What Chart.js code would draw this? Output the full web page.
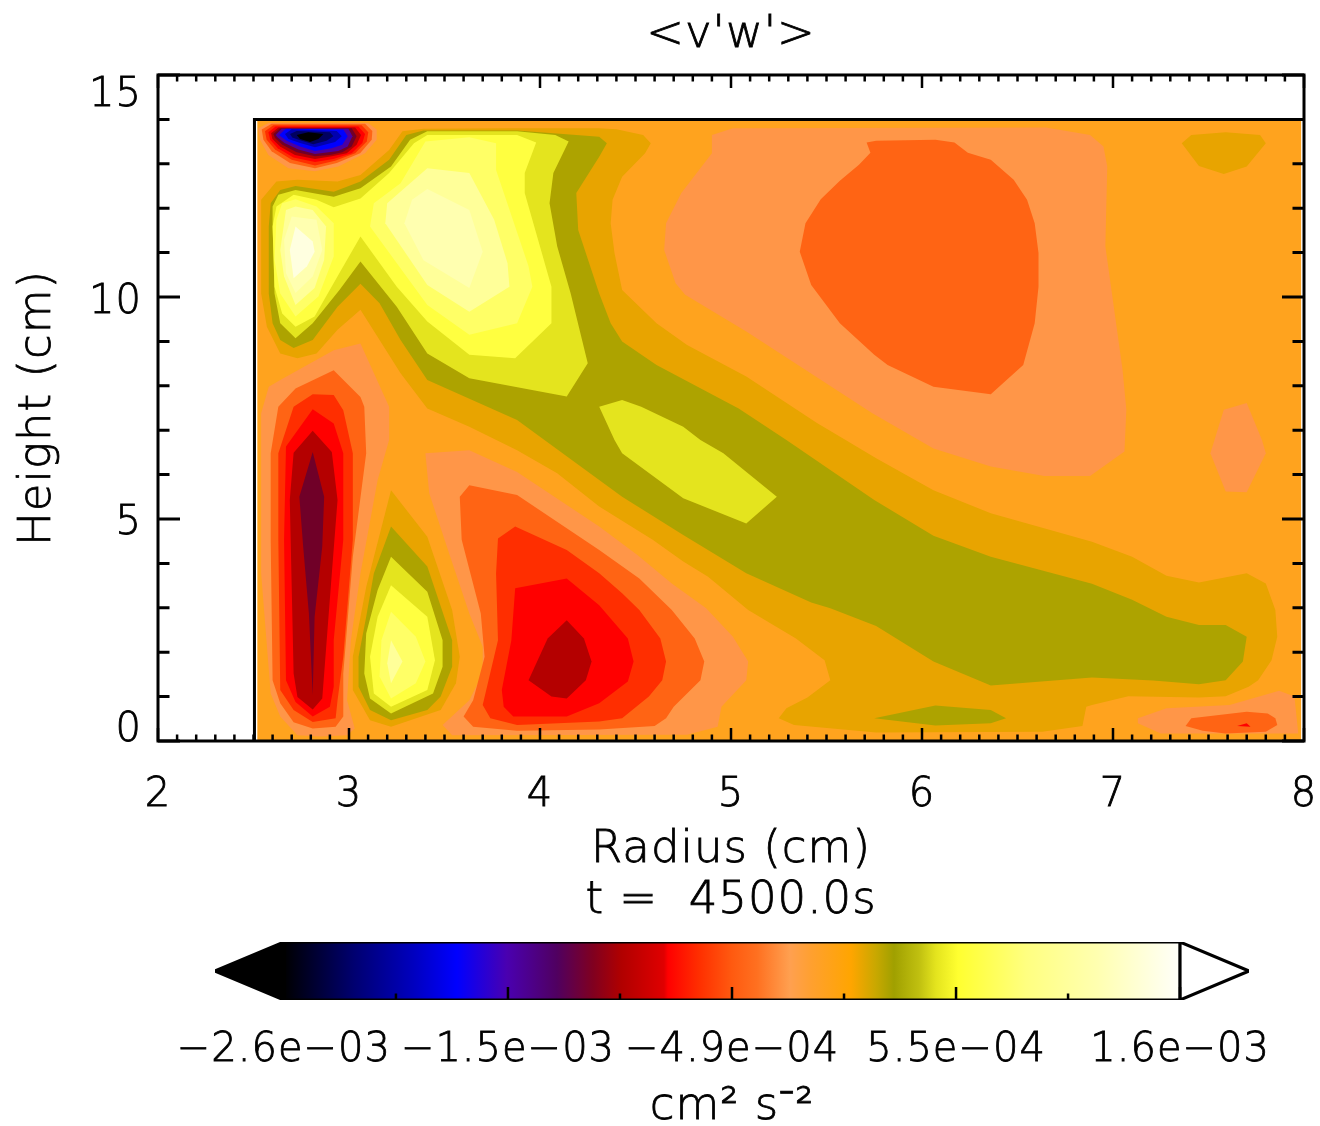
<!DOCTYPE html>
<html>
<head>
<meta charset="utf-8">
<title>v'w' contour</title>
<script src="https://cdn.jsdelivr.net/npm/chart.js@4"></script>
<style>
  html, body { margin: 0; padding: 0; background: #fff; }
  canvas { position: absolute; left: 0; }
  #field { top: 0; }
  #bar { top: 930px; }
</style>
</head>
<body>
<canvas id="field" width="1320" height="930"></canvas>
<canvas id="bar" width="1320" height="196"></canvas>
<script>
// contour bands: [radius cm, height cm]
const domain = [[2.52,0],[7.985,0],[7.985,13.98],[2.52,13.98]];
const domainEdge = [[2.505,0],[2.505,14.0],[8,14.0]];

// positive side, main ridge
const ridge1 = [[2.62,12.6],[2.54,12.19],[2.54,10.08],[2.57,9.33],[2.64,8.73],[2.73,8.62],[2.83,8.73],[2.94,9.26],[3.06,9.71],[3.16,9.03],[3.27,8.28],[3.41,7.49],[3.63,7.08],[3.88,6.55],[4.09,6.03],[4.31,5.28],[4.59,4.53],[4.75,4.04],[4.88,3.70],[5.09,2.95],[5.34,2.31],[5.49,1.82],[5.52,1.37],[5.40,0.98],[5.29,0.74],[5.25,0.51],[5.33,0.36],[5.76,0.19],[6.63,0.21],[6.84,0.34],[6.86,0.77],[6.89,0.81],[7.08,1.01],[7.45,0.98],[7.59,1.01],[7.71,1.22],[7.76,1.37],[7.83,1.82],[7.86,2.35],[7.85,2.95],[7.80,3.55],[7.70,3.78],[7.45,3.57],[7.28,3.72],[7.10,4.15],[6.89,4.49],[6.36,5.13],[6.06,5.65],[5.76,6.37],[5.60,6.78],[5.45,7.16],[5.08,8.21],[4.77,8.92],[4.61,9.41],[4.43,10.16],[4.39,10.99],[4.37,11.66],[4.38,12.19],[4.43,12.71],[4.55,13.24],[4.58,13.46],[4.54,13.65],[4.40,13.78],[4.31,13.80],[3.83,13.80],[3.39,13.79],[3.28,13.73],[3.21,13.31],[3.06,12.75],[2.94,12.6],[2.73,12.64]];
const ridge2 = [[2.64,12.41],[2.72,12.50],[2.92,12.37],[3.06,12.6],[3.21,13.09],[3.30,13.65],[3.39,13.75],[3.88,13.75],[4.31,13.61],[4.35,13.46],[4.31,13.16],[4.19,12.34],[4.20,11.51],[4.31,10.08],[4.37,9.41],[4.43,9.0],[4.61,8.47],[5.04,7.49],[5.29,6.78],[5.75,5.43],[6.06,4.62],[6.36,4.15],[6.89,3.54],[7.10,3.18],[7.28,2.8],[7.45,2.61],[7.59,2.61],[7.70,2.35],[7.68,1.79],[7.59,1.37],[7.45,1.28],[7.21,1.36],[6.89,1.43],[6.36,1.25],[6.06,1.79],[5.76,2.59],[5.52,2.99],[5.42,3.12],[5.08,3.78],[4.75,4.64],[4.43,5.50],[4.31,5.88],[3.88,7.23],[3.41,8.13],[3.27,9.03],[3.16,9.86],[3.06,10.3],[2.94,9.78],[2.81,9.03],[2.71,8.85],[2.64,9.03],[2.60,9.41],[2.58,10.08],[2.58,11.59],[2.59,12.11]];
const ridge3 = [[2.63,12.3],[2.72,12.41],[2.92,12.26],[3.06,12.45],[3.22,12.94],[3.32,13.54],[3.41,13.73],[3.88,13.73],[4.08,13.65],[4.15,13.5],[4.07,12.79],[4.05,12.11],[4.09,11.14],[4.16,10.09],[4.25,8.51],[4.14,7.76],[3.63,8.17],[3.41,8.73],[3.25,9.78],[3.06,10.8],[2.95,10.16],[2.81,9.41],[2.72,9.07],[2.64,9.41],[2.61,10.08],[2.60,11.59],[2.60,12.04]];
const ridge4 = [[2.62,12.04],[2.71,12.3],[2.83,12.19],[2.92,12.02],[3.06,12.22],[3.21,12.79],[3.34,13.46],[3.41,13.65],[3.88,13.65],[3.98,13.48],[3.92,12.79],[3.92,12.34],[4.06,10.23],[4.06,9.41],[3.87,8.62],[3.63,8.7],[3.41,9.45],[3.25,10.23],[3.06,11.36],[2.95,10.54],[2.82,9.56],[2.72,9.33],[2.65,9.63],[2.61,10.23],[2.60,11.59]];
const upper5 = [[3.40,13.5],[3.63,13.6],[3.77,13.46],[3.77,12.86],[3.94,10.69],[3.96,10.23],[3.88,9.41],[3.63,9.15],[3.41,9.82],[3.11,11.59],[3.13,12.11],[3.27,12.56]];
const upper6 = [[3.41,12.9],[3.63,12.79],[3.76,11.74],[3.83,10.76],[3.84,10.23],[3.63,9.67],[3.41,10.27],[3.19,11.66],[3.20,12.11]];
const upper7 = [[3.41,12.43],[3.63,11.96],[3.70,11.02],[3.63,10.2],[3.39,10.83],[3.29,11.66],[3.33,12.19]];
const lobe5 = [[2.65,12.11],[2.72,12.2],[2.83,12.04],[2.92,11.66],[2.92,10.91],[2.84,10.01],[2.72,9.56],[2.64,10.08],[2.61,10.84],[2.62,11.74]];
const lobe6 = [[2.67,11.96],[2.72,12.04],[2.81,11.96],[2.88,11.59],[2.87,10.84],[2.82,10.2],[2.72,9.82],[2.66,10.46],[2.64,11.06]];
const lobe7 = [[2.70,11.81],[2.83,11.74],[2.86,11.06],[2.81,10.46],[2.72,10.09],[2.67,10.54],[2.66,11.29]];
const lobe8 = [[2.72,11.59],[2.81,11.25],[2.82,11.02],[2.78,10.69],[2.71,10.42],[2.69,11.06]];
const midPatch = [[4.31,7.53],[4.43,7.68],[4.53,7.53],[4.75,7.08],[4.84,6.78],[4.96,6.48],[5.24,5.5],[5.08,4.9],[4.75,5.47],[4.43,6.48],[4.39,6.78]];
const floorPatch = [[5.75,0.51],[6.07,0.8],[6.36,0.7],[6.44,0.51],[6.36,0.4],[6.07,0.35]];
const cornerPatch = [[7.36,13.46],[7.41,13.65],[7.59,13.71],[7.77,13.65],[7.80,13.46],[7.70,12.94],[7.58,12.77],[7.45,12.95]];

// positive side, small lobe near r=3.2
const drop1 = [[3.22,5.65],[3.41,4.6],[3.54,2.95],[3.58,1.9],[3.56,1.3],[3.48,0.7],[3.22,0.32],[3.11,0.47],[3.02,1.15],[3.02,1.9],[3.09,3.47]];
const drop2 = [[3.22,4.83],[3.41,3.93],[3.54,2.27],[3.54,1.67],[3.48,1.0],[3.41,0.7],[3.22,0.47],[3.11,0.7],[3.05,1.22],[3.05,1.9],[3.09,2.8],[3.13,3.77]];
const drop3 = [[3.22,4.15],[3.41,3.36],[3.49,2.27],[3.49,1.67],[3.44,1.07],[3.22,0.62],[3.11,0.96],[3.08,1.52],[3.09,2.42],[3.15,3.4]];
const drop4 = [[3.22,3.51],[3.41,2.8],[3.45,1.82],[3.41,1.15],[3.22,0.77],[3.13,1.07],[3.11,1.9],[3.15,2.8]];
const drop5 = [[3.22,2.91],[3.35,2.35],[3.40,1.79],[3.35,1.3],[3.22,0.96],[3.16,1.45],[3.17,2.27]];
const drop6 = [[3.22,2.27],[3.28,1.79],[3.22,1.3],[3.20,1.75]];

// negative side, upper right
const broad1 = [[4.90,13.65],[5.01,13.8],[6.65,13.82],[6.88,13.65],[6.95,13.39],[6.97,12.94],[6.96,11.14],[7.05,8.36],[7.07,7.46],[7.06,6.52],[6.88,5.97],[6.64,5.97],[6.36,6.18],[6.06,6.59],[5.74,7.38],[5.08,9.22],[4.76,10.05],[4.71,10.31],[4.65,11.06],[4.66,11.66],[4.74,12.34],[4.90,13.24]];
const broad2 = [[5.71,13.48],[5.76,13.52],[6.07,13.54],[6.17,13.48],[6.24,13.25],[6.36,13.09],[6.48,12.64],[6.55,12.19],[6.59,11.66],[6.61,10.99],[6.61,10.23],[6.59,9.41],[6.53,8.47],[6.36,7.81],[6.06,7.98],[5.82,8.47],[5.75,8.70],[5.57,9.41],[5.42,10.27],[5.36,11.02],[5.39,11.66],[5.47,12.2],[5.57,12.62],[5.67,12.98],[5.73,13.25]];
const sidePatch = [[7.58,7.46],[7.70,7.61],[7.78,6.78],[7.80,6.48],[7.70,5.6],[7.59,5.62],[7.51,6.48]];
const floorRight1 = [[7.13,0.51],[7.28,0.74],[7.61,0.81],[7.87,1.13],[7.95,1.0],[7.97,0.17],[7.25,0.17],[7.13,0.4]];
const floorRight2 = [[7.38,0.34],[7.41,0.51],[7.70,0.66],[7.81,0.62],[7.85,0.51],[7.86,0.36],[7.80,0.21],[7.59,0.17],[7.47,0.23]];
const floorRight3 = [[7.65,0.34],[7.70,0.4],[7.72,0.32]];

// negative side, column near r=2.8
const column1 = [[2.58,7.98],[2.64,8.13],[2.92,8.80],[3.06,8.95],[3.21,7.53],[3.21,6.78],[3.15,5.88],[3.06,3.77],[3.01,2.27],[2.99,0.92],[3.03,0.28],[2.99,0.13],[2.85,0.1],[2.73,0.13],[2.64,0.55],[2.59,1.07],[2.54,3.77],[2.54,7.38]];
const column2 = [[2.63,7.53],[2.72,7.94],[2.92,8.35],[3.06,7.75],[3.08,7.53],[3.09,6.48],[3.02,4.15],[2.97,1.52],[2.97,0.55],[2.93,0.32],[2.81,0.28],[2.71,0.42],[2.64,0.85],[2.60,1.37],[2.59,4.53],[2.59,6.48]];
const column3 = [[2.71,7.53],[2.81,7.81],[2.92,7.79],[2.97,7.45],[3.02,6.48],[3.02,4.53],[2.97,1.9],[2.94,0.92],[2.93,0.51],[2.81,0.43],[2.71,0.70],[2.64,1.15],[2.63,4.53],[2.63,6.48]];
const column4 = [[2.81,7.47],[2.92,7.15],[2.97,6.48],[2.97,4.53],[2.92,2.27],[2.92,1.22],[2.90,0.77],[2.81,0.55],[2.72,0.88],[2.67,1.37],[2.66,4.53],[2.67,6.63]];
const column5 = [[2.81,6.99],[2.91,6.51],[2.94,5.43],[2.91,3.77],[2.87,1.52],[2.86,0.96],[2.81,0.71],[2.73,0.99],[2.71,1.52],[2.69,5.43],[2.71,6.49]];
const column6 = [[2.81,6.51],[2.87,5.5],[2.86,4.38],[2.82,2.8],[2.81,1.03],[2.79,2.87],[2.76,4.38],[2.74,5.5]];

// negative side, lower cell near r=4.1
const cell1 = [[3.40,6.48],[3.63,6.55],[3.88,6.06],[4.31,4.83],[4.51,4.19],[4.69,3.55],[4.87,2.99],[5.01,2.35],[5.09,1.79],[5.08,1.37],[4.95,0.77],[4.93,0.32],[4.77,0.14],[3.54,0.13],[3.49,0.36],[3.63,0.92],[3.70,1.52],[3.70,2.12],[3.63,2.87],[3.53,4.15],[3.42,5.58]];
const cell2 = [[3.63,5.76],[3.58,5.5],[3.59,4.53],[3.69,2.87],[3.71,1.9],[3.65,0.92],[3.60,0.55],[3.65,0.32],[3.88,0.23],[4.31,0.26],[4.60,0.34],[4.66,0.51],[4.70,0.77],[4.84,1.37],[4.86,1.79],[4.81,2.31],[4.69,2.95],[4.52,3.66],[4.31,4.30],[3.88,5.54]];
const cell3 = [[3.87,4.83],[3.78,4.56],[3.77,3.77],[3.78,2.27],[3.70,0.81],[3.74,0.51],[3.88,0.36],[4.31,0.44],[4.43,0.51],[4.57,1.0],[4.64,1.37],[4.66,1.79],[4.63,2.31],[4.52,2.95],[4.43,3.33],[4.31,3.78],[4.14,4.3]];
const cell4 = [[3.87,3.44],[4.14,3.66],[4.31,3.06],[4.46,2.31],[4.49,1.79],[4.46,1.34],[4.31,0.85],[4.14,0.55],[3.86,0.55],[3.81,0.77],[3.80,1.15],[3.85,2.27]];
const cell5 = [[4.14,2.72],[4.23,2.31],[4.27,1.79],[4.24,1.37],[4.14,0.96],[4.06,1.0],[3.94,1.37],[4.04,2.31]];

// strong minimum at the top left corner
const core1 = [[2.525,13.80],[2.578,13.92],[3.10,13.92],[3.145,13.77],[3.145,13.54],[3.084,13.24],[2.944,12.94],[2.822,12.83],[2.683,12.90],[2.578,13.2],[2.534,13.54]];
const core2 = [[2.543,13.77],[2.595,13.9],[3.084,13.9],[3.122,13.74],[3.119,13.54],[3.058,13.24],[2.936,13.02],[2.822,12.9],[2.691,13.02],[2.595,13.28],[2.552,13.54]];
const core3 = [[2.56,13.73],[2.604,13.87],[3.066,13.87],[3.101,13.71],[3.093,13.50],[3.032,13.24],[2.927,13.07],[2.822,12.96],[2.70,13.09],[2.613,13.32],[2.569,13.54]];
const core4 = [[2.578,13.71],[2.616,13.84],[3.049,13.84],[3.084,13.67],[3.07,13.47],[3.014,13.24],[2.918,13.11],[2.822,13.04],[2.709,13.14],[2.627,13.35],[2.587,13.54]];
const core5 = [[2.592,13.69],[2.63,13.82],[3.032,13.82],[3.063,13.65],[3.04,13.43],[2.988,13.24],[2.91,13.17],[2.822,13.11],[2.717,13.2],[2.639,13.39],[2.599,13.56]];
const core6 = [[2.604,13.67],[2.639,13.8],[3.014,13.8],[3.04,13.62],[3.014,13.39],[2.965,13.26],[2.9,13.2],[2.822,13.17],[2.726,13.26],[2.651,13.43],[2.613,13.58]];
const core7 = [[2.616,13.65],[2.648,13.79],[2.997,13.79],[3.018,13.62],[2.993,13.39],[2.944,13.29],[2.822,13.22],[2.735,13.32],[2.662,13.47],[2.627,13.59]];
const core8 = [[2.634,13.65],[2.669,13.79],[2.97,13.77],[2.993,13.62],[2.965,13.43],[2.909,13.35],[2.822,13.29],[2.744,13.39],[2.674,13.52],[2.641,13.62]];
const core9 = [[2.665,13.67],[2.70,13.78],[2.936,13.74],[2.962,13.62],[2.927,13.49],[2.822,13.37],[2.744,13.47],[2.683,13.56]];
const core10 = [[2.691,13.67],[2.726,13.74],[2.9,13.71],[2.918,13.62],[2.883,13.52],[2.813,13.44],[2.752,13.52],[2.703,13.59]];
const core11 = [[2.726,13.65],[2.787,13.71],[2.866,13.67],[2.84,13.56],[2.796,13.49],[2.744,13.56]];

// axis labels
const yTickValues = [0, 5, 10, 15];
const yTickNames = ['0', '5', '10', '15'];

// colour bar
const barMin = -2.6e-3;
const barMax = 1.6e-3;
const barTickValues = [-2.6e-3, -2.075e-3, -1.55e-3, -1.025e-3, -0.5e-3, 0.025e-3, 0.55e-3, 1.075e-3, 1.6e-3];
const barTickNames = ['−2.6e−03', '', '−1.5e−03', '', '−4.9e−04', '', '5.5e−04', '', '1.6e−03'];
const barStopValues = [-2.6e-3, -2.272e-3, -1.991e-3, -1.789e-3, -1.555e-3, -1.32e-3, -1.152e-3, -1.02e-3, -0.819e-3, -0.8e-3, -0.65e-3, -0.5e-3, -0.383e-3, -0.228e-3, -0.13e-3, 0.058e-3, 0.175e-3, 0.259e-3, 0.377e-3, 0.456e-3, 0.559e-3, 0.878e-3, 1.211e-3, 1.6e-3];
const barStopColors = ['#000000', '#000070', '#0000c0', '#0000ff', '#4a00b0', '#500060', '#800020', '#b00000', '#e00000', '#ff0000', '#ff3000', '#ff5a10', '#ff7020', '#ffa050', '#ffa030', '#ffa500', '#c8a800', '#a0a000', '#c0c010', '#e4e41e', '#ffff30', '#ffff80', '#ffffb0', '#fffffa'];

const FONT = '"DejaVu Sans"';
const tickFont = { family: FONT, size: 40, weight: '200' };
const titleFont = { family: FONT, size: 45, weight: '200', lineHeight: 1.133 };

const ORANGE = '#ffa31e', AMBER = '#e8a400', OLIVE = '#ada300', LIME = '#e4e41e';
const Y1 = '#ffff40', Y2 = '#ffff66', Y3 = '#ffff99', Y4 = '#ffffb0', Y5 = '#ffffe0';
const SALMON = '#ff9648', RUST = '#ff6414', SCARLET = '#ff2e00', RED = '#ff0000', DARKRED = '#b40000', WINE = '#700028';

// back to front
const layers = [
  [domain, ORANGE], [ridge1, AMBER], [ridge2, OLIVE], [ridge3, LIME], [ridge4, Y1],
  [upper5, Y2], [upper6, Y3], [upper7, Y4], [lobe5, Y2], [lobe6, Y3], [lobe7, Y4], [lobe8, Y5],
  [midPatch, LIME], [floorPatch, OLIVE], [cornerPatch, AMBER],
  [drop1, AMBER], [drop2, OLIVE], [drop3, LIME], [drop4, Y1], [drop5, Y2], [drop6, Y3],
  [broad1, SALMON], [broad2, RUST], [sidePatch, SALMON],
  [floorRight1, SALMON], [floorRight2, RUST], [floorRight3, RED],
  [column1, SALMON], [column2, RUST], [column3, SCARLET], [column4, RED], [column5, DARKRED], [column6, WINE],
  [cell1, SALMON], [cell2, RUST], [cell3, SCARLET], [cell4, RED], [cell5, DARKRED],
  [core1, SALMON], [core2, RUST], [core3, SCARLET], [core4, RED], [core5, DARKRED], [core6, WINE],
  [core7, '#4c00a0'], [core8, '#0000ff'], [core9, '#0000b0'], [core10, '#000060'], [core11, '#000000']
];

const toPoints = (poly) => poly.map(([x, y]) => ({ x, y }));

const fieldSets = layers.map(([poly, colour], i) => ({
  data: toPoints(poly),
  showLine: true,
  fill: 'shape',
  backgroundColor: colour,
  borderWidth: 0,
  pointRadius: 0,
  order: layers.length - i + 1
}));
fieldSets.push({
  data: toPoints(domainEdge),
  showLine: true,
  fill: false,
  borderColor: '#000',
  borderWidth: 3,
  pointRadius: 0,
  order: 0
});

// the original lettering is a plain stroke font: a bit of spacing and a hairline outline gets close
const strokeLettering = {
  id: 'strokeLettering',
  beforeDraw(chart) {
    const ctx = chart.ctx;
    ctx.letterSpacing = '1px';
    if (ctx.plainFillText) return;
    ctx.plainFillText = ctx.fillText;
    ctx.fillText = function (text, x, y, maxWidth) {
      ctx.plainFillText(text, x, y, maxWidth);
      ctx.save();
      ctx.lineWidth = 0.8;
      ctx.strokeStyle = ctx.fillStyle;
      ctx.strokeText(text, x, y, maxWidth);
      ctx.restore();
    };
  }
};

// IDL style inward ticks on all four sides, plus the y labels that get nudged inside the frame
const fieldFrame = {
  id: 'fieldFrame',
  afterDatasetsDraw(chart) {
    const { ctx, chartArea: a, scales } = chart;
    ctx.save();
    ctx.strokeStyle = '#000';
    ctx.lineWidth = 3;
    ctx.strokeRect(a.left, a.top, a.width, a.height);
    ctx.lineWidth = 2.5;
    ctx.beginPath();
    scales.x.ticks.forEach((t) => {
      const px = scales.x.getPixelForValue(t.value);
      const major = Math.abs(t.value - Math.round(t.value)) < 1e-6;
      const len = major ? 13 : 6.5;
      ctx.moveTo(px, a.top); ctx.lineTo(px, a.top + len);
      ctx.moveTo(px, a.bottom); ctx.lineTo(px, a.bottom - len);
    });
    ctx.stroke();
    ctx.lineWidth = 3;
    ctx.beginPath();
    scales.y.ticks.forEach((t) => {
      const py = scales.y.getPixelForValue(t.value);
      const len = t.value % 5 === 0 ? 22 : 11.5;
      ctx.moveTo(a.left, py); ctx.lineTo(a.left + len, py);
      ctx.moveTo(a.right, py); ctx.lineTo(a.right - len, py);
    });
    ctx.stroke();

    const nudges = [-10, 5, 6, 21];
    ctx.fillStyle = '#000';
    ctx.font = `200 40px ${FONT}`;
    ctx.textAlign = 'right';
    ctx.textBaseline = 'middle';
    yTickValues.forEach((v, i) => {
      ctx.fillText(yTickNames[i], 142, scales.y.getPixelForValue(v) + nudges[i]);
    });
    ctx.restore();
  }
};

new Chart(document.getElementById('field'), {
  type: 'scatter',
  data: { datasets: fieldSets },
  plugins: [strokeLettering, fieldFrame],
  options: {
    responsive: false,
    animation: false,
    devicePixelRatio: 1,
    events: [],
    layout: { padding: { right: 16 } },
    plugins: {
      legend: { display: false },
      tooltip: { enabled: false },
      title: {
        display: true,
        text: "<v'w'>",
        color: '#000',
        fullSize: false,
        font: titleFont,
        padding: { top: 10, bottom: 14 }
      }
    },
    scales: {
      x: {
        type: 'linear',
        min: 2,
        max: 8,
        border: { display: false },
        grid: { display: false },
        afterFit: (s) => { s.height = 189; s.paddingLeft = 0; s.paddingRight = 0; },
        ticks: {
          stepSize: 0.1,
          autoSkip: false,
          maxRotation: 0,
          padding: 23,
          color: '#000',
          font: tickFont,
          callback: (v) => (Math.abs(v - Math.round(v)) < 1e-6 ? String(Math.round(v)) : '')
        },
        title: {
          display: true,
          text: ['Radius (cm)', 't =  4500.0s'],
          color: '#000',
          font: titleFont,
          padding: { top: 0, bottom: 3 }
        }
      },
      y: {
        type: 'linear',
        min: 0,
        max: 15,
        border: { display: false },
        grid: { display: false },
        afterFit: (s) => { s.width = 158; s.paddingTop = 0; s.paddingBottom = 0; },
        ticks: { stepSize: 1, autoSkip: false, display: false },
        title: {
          display: true,
          text: 'Height (cm)',
          color: '#000',
          font: titleFont,
          padding: { top: 13, bottom: 0 }
        }
      }
    }
  }
});

// colour bar
const barFill = (ctx) => {
  const chart = ctx.chart;
  if (!chart.chartArea) return '#000';
  const xs = chart.scales.x;
  const g = chart.ctx.createLinearGradient(xs.getPixelForValue(barMin), 0, xs.getPixelForValue(barMax), 0);
  barStopValues.forEach((v, i) => g.addColorStop((v - barMin) / (barMax - barMin), barStopColors[i]));
  return g;
};
const tipSize = 0.323e-3;

const barFrame = {
  id: 'barFrame',
  afterDatasetsDraw(chart) {
    const { ctx, chartArea: a, scales } = chart;
    ctx.save();
    ctx.strokeStyle = '#000';
    ctx.lineWidth = 2.5;
    ctx.beginPath();
    barTickValues.forEach((v, i) => {
      const px = scales.x.getPixelForValue(v);
      ctx.moveTo(px, a.bottom);
      ctx.lineTo(px, a.bottom - (i % 2 === 0 ? 13 : 6.5));
    });
    ctx.stroke();
    ctx.restore();
  }
};

new Chart(document.getElementById('bar'), {
  type: 'scatter',
  data: {
    datasets: [
      { data: toPoints([[barMin, -1], [barMax, -1], [barMax, 1], [barMin, 1], [barMin, -1]]), showLine: true, fill: 'shape', backgroundColor: barFill, borderColor: '#000', borderWidth: 3, pointRadius: 0, order: 2 },
      { data: toPoints([[barMin, -1], [barMin - tipSize, 0], [barMin, 1], [barMin, -1]]), showLine: true, fill: 'shape', backgroundColor: '#000', borderColor: '#000', borderWidth: 3, pointRadius: 0, order: 1 },
      { data: toPoints([[barMax, -1], [barMax + tipSize, 0], [barMax, 1], [barMax, -1]]), showLine: true, fill: 'shape', backgroundColor: '#fff', borderColor: '#000', borderWidth: 3, pointRadius: 0, order: 1 }
    ]
  },
  plugins: [strokeLettering, barFrame],
  options: {
    responsive: false,
    animation: false,
    devicePixelRatio: 1,
    events: [],
    layout: { padding: { left: 215, right: 71, top: 12 } },
    plugins: { legend: { display: false }, tooltip: { enabled: false } },
    scales: {
      x: {
        type: 'linear',
        min: barMin - tipSize,
        max: barMax + tipSize,
        border: { display: false },
        grid: { display: false },
        afterBuildTicks: (s) => { s.ticks = barTickValues.map((value) => ({ value })); },
        afterFit: (s) => { s.height = 126; s.paddingLeft = 0; s.paddingRight = 0; },
        ticks: {
          autoSkip: false,
          maxRotation: 0,
          padding: 19,
          color: '#000',
          font: tickFont,
          callback: (v) => barTickNames[barTickValues.indexOf(v)]
        },
        title: {
          display: true,
          text: 'cm² s⁻²',
          color: '#000',
          font: { family: FONT, size: 45, weight: '200', lineHeight: 1 },
          padding: { top: 0, bottom: -4 }
        }
      },
      y: { type: 'linear', min: -1, max: 1, display: false }
    }
  }
});
</script>
</body>
</html>
